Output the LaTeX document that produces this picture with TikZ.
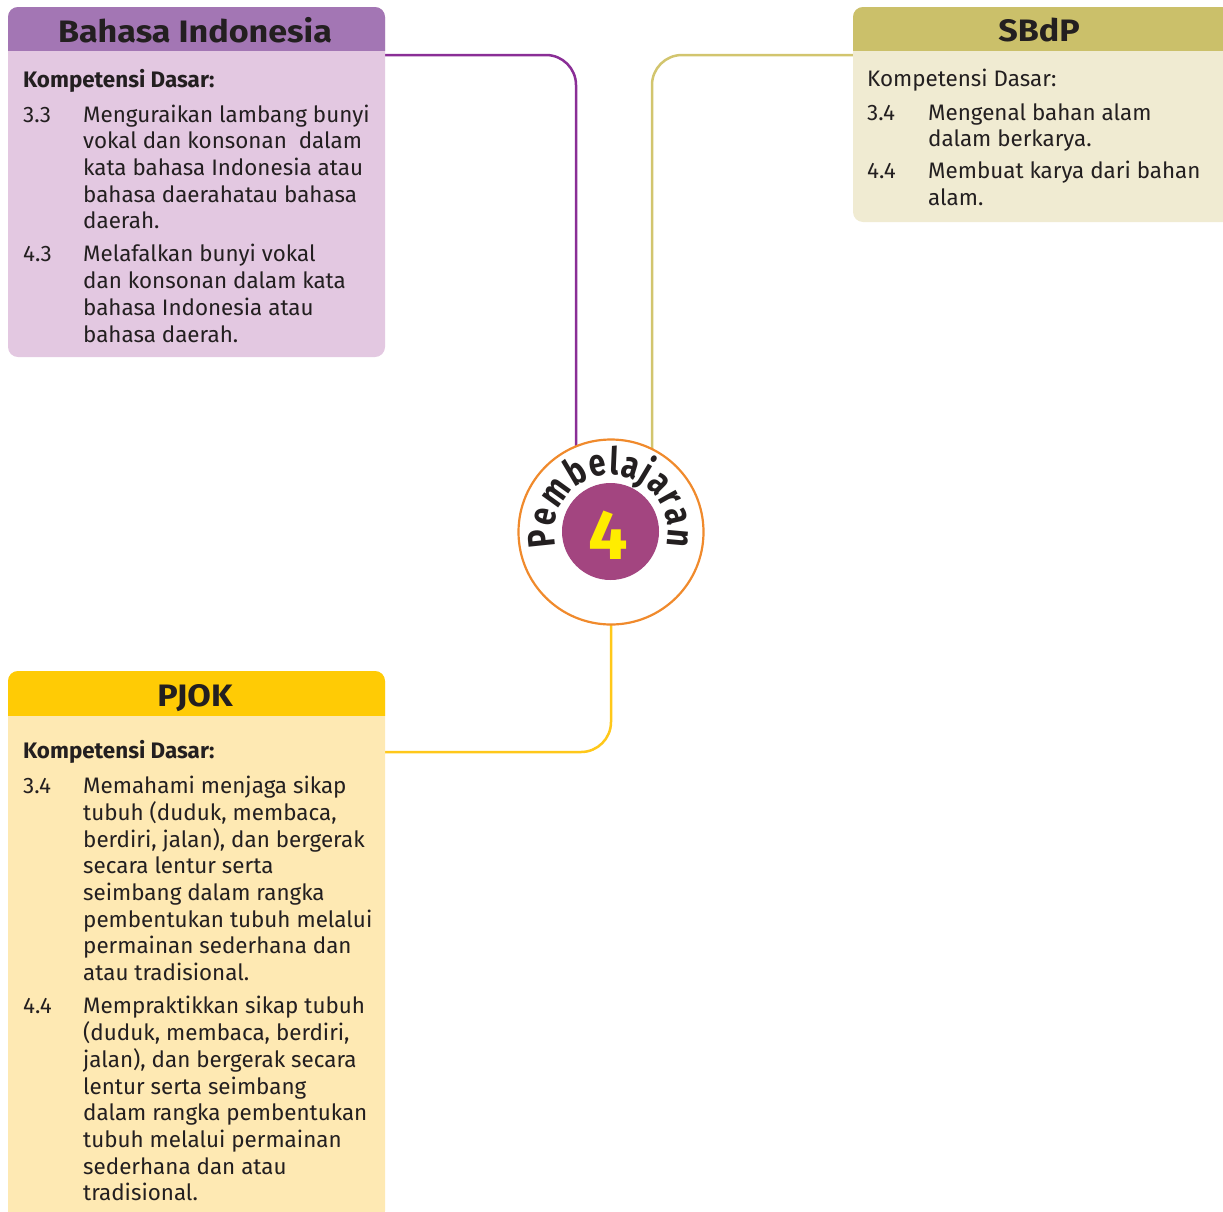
\documentclass[tikz,border=0pt]{standalone}
\usepackage{fontspec}
\setmainfont{Fira Sans}
\newfontfamily\titlefam{Fira Sans}[FakeStretch=1.1]
\newfontfamily\ringfam{Fira Sans}[FakeStretch=0.8]
\usetikzlibrary{decorations.text,backgrounds}
\definecolor{bihdr}{HTML}{A376B4}
\definecolor{bibody}{HTML}{E3C8E1}
\definecolor{biline}{HTML}{8A2E96}
\definecolor{sbhdr}{HTML}{CBC06A}
\definecolor{sbbody}{HTML}{F0EBD2}
\definecolor{sbline}{HTML}{D2C56E}
\definecolor{pjhdr}{HTML}{FFCB05}
\definecolor{pjbody}{HTML}{FEE9B3}
\definecolor{pjline}{HTML}{FFC81A}
\definecolor{ringorange}{HTML}{F08A2C}
\definecolor{numpurple}{HTML}{A34580}
\definecolor{numyellow}{HTML}{FFED00}
\definecolor{ink}{HTML}{231F20}
\newcommand{\bodyfont}{\fontsize{22.4}{26.7}\selectfont}
\newcommand{\titlefont}{\titlefam\bfseries\fontsize{31}{32}\selectfont}
\newcommand{\ringfont}{\ringfam\bfseries\fontsize{38}{38}\selectfont}
\begin{document}
\begin{tikzpicture}[x=1pt,y=-1pt,
  panel/.style={rounded corners=10pt, inner sep=0pt, outer sep=0pt, anchor=north west, draw=none},
  paneltitle/.style={anchor=base, inner sep=0pt, text=ink, font=\titlefont},
  paneltext/.style={anchor=north west, inner sep=0pt, text=ink, font=\bodyfont},
  conn/.style={line width=2.5pt, rounded corners=30pt}]
\useasboundingbox (0,0) rectangle (1223,1211);
\clip (0,0) rectangle (1223,1211);

% ---- Bahasa Indonesia panel
\node[panel, fill=bibody, minimum width=377pt, minimum height=350pt] (bi) at (8,7) {};
\begin{scope}
  \clip (bi.north west) rectangle ([yshift=-43pt]bi.north east);
  \fill[bihdr, rounded corners=10pt] (bi.north west) rectangle (bi.south east);
\end{scope}
\node[paneltitle] (bititle) at (195,42) {Bahasa Indonesia};
\node[paneltext] (bitext) at (23,68.3) {%
\begin{tabular}{@{}p{60pt}@{}l@{}}
\multicolumn{2}{@{}l@{}}{\bfseries Kompetensi Dasar:}\\[8.3pt]
3.3 & Menguraikan lambang bunyi\\
    & vokal dan konsonan\ \ dalam\\
    & kata bahasa Indonesia atau\\
    & bahasa daerahatau bahasa\\
    & daerah.\\[6.3pt]
4.3 & Melafalkan bunyi vokal\\
    & dan konsonan dalam kata\\
    & bahasa Indonesia atau\\
    & bahasa daerah.
\end{tabular}};

% ---- SBdP panel
\node[panel, fill=sbbody, minimum width=400pt, minimum height=215pt] (sb) at (853,7) {};
\begin{scope}
  \clip (sb.north west) rectangle ([yshift=-43pt]sb.north east);
  \fill[sbhdr, rounded corners=10pt] (sb.north west) rectangle (sb.south east);
\end{scope}
\node[paneltitle] (sbtitle) at (1039,41) {SBdP};
\node[paneltext] (sbtext) at (867,67.3) {%
\begin{tabular}{@{}p{61pt}@{}l@{}}
\multicolumn{2}{@{}l@{}}{Kompetensi Dasar:}\\[7.3pt]
3.4 & Mengenal bahan alam\\
    & dalam berkarya.\\[5.3pt]
4.4 & Membuat karya dari bahan\\
    & alam.
\end{tabular}};

% ---- PJOK panel
\node[panel, fill=pjbody, minimum width=377pt, minimum height=550pt] (pj) at (8,671) {};
\begin{scope}
  \clip (pj.north west) rectangle ([yshift=-44pt]pj.north east);
  \fill[pjhdr, rounded corners=10pt] (pj.north west) rectangle (pj.south east);
\end{scope}
\node[paneltitle] (pjtitle) at (195,706) {PJOK};
\node[paneltext] (pjtext) at (23,739.3) {%
\begin{tabular}{@{}p{60pt}@{}l@{}}
\multicolumn{2}{@{}l@{}}{\bfseries Kompetensi Dasar:}\\[8.3pt]
3.4 & Memahami menjaga sikap\\
    & tubuh (duduk, membaca,\\
    & berdiri, jalan), dan bergerak\\
    & secara lentur serta\\
    & seimbang dalam rangka\\
    & pembentukan tubuh melalui\\
    & permainan sederhana dan\\
    & atau tradisional.\\[6.3pt]
4.4 & Mempraktikkan sikap tubuh\\
    & (duduk, membaca, berdiri,\\
    & jalan), dan bergerak secara\\
    & lentur serta seimbang\\
    & dalam rangka pembentukan\\
    & tubuh melalui permainan\\
    & sederhana dan atau\\
    & tradisional.
\end{tabular}};

% ---- hub
\node[circle, draw=ringorange, line width=2.2pt, fill=white, minimum size=185pt, inner sep=0pt] (hub) at (611,532) {};
\node[circle, fill=numpurple, minimum size=97pt, inner sep=0pt] (num) at (610.5,531.5) {};
\node[text=numyellow, font=\bfseries\fontsize{70}{70}\selectfont, inner sep=0pt] (four) at (608,535) {4};
\begin{scope}[shift={(hub.center)}, x=1pt, y=1pt]
  \path[decorate, decoration={text along path, text={|\ringfont\color{ink}|Pembelajaran}, text align=fit to path}]
    (195:57) arc[start angle=195, end angle=-14, radius=57pt];
\end{scope}

% ---- connectors
\begin{scope}[on background layer]
  \draw[conn, biline] ([yshift=-48pt]bi.north east) -| ([xshift=-35pt]hub.center);
  \draw[conn, sbline] ([yshift=-48pt]sb.north west) -| ([xshift=41pt]hub.center);
  \draw[conn, pjline] (hub.center) |- ([yshift=-81pt]pj.north east);
\end{scope}
\end{tikzpicture}
\end{document}
